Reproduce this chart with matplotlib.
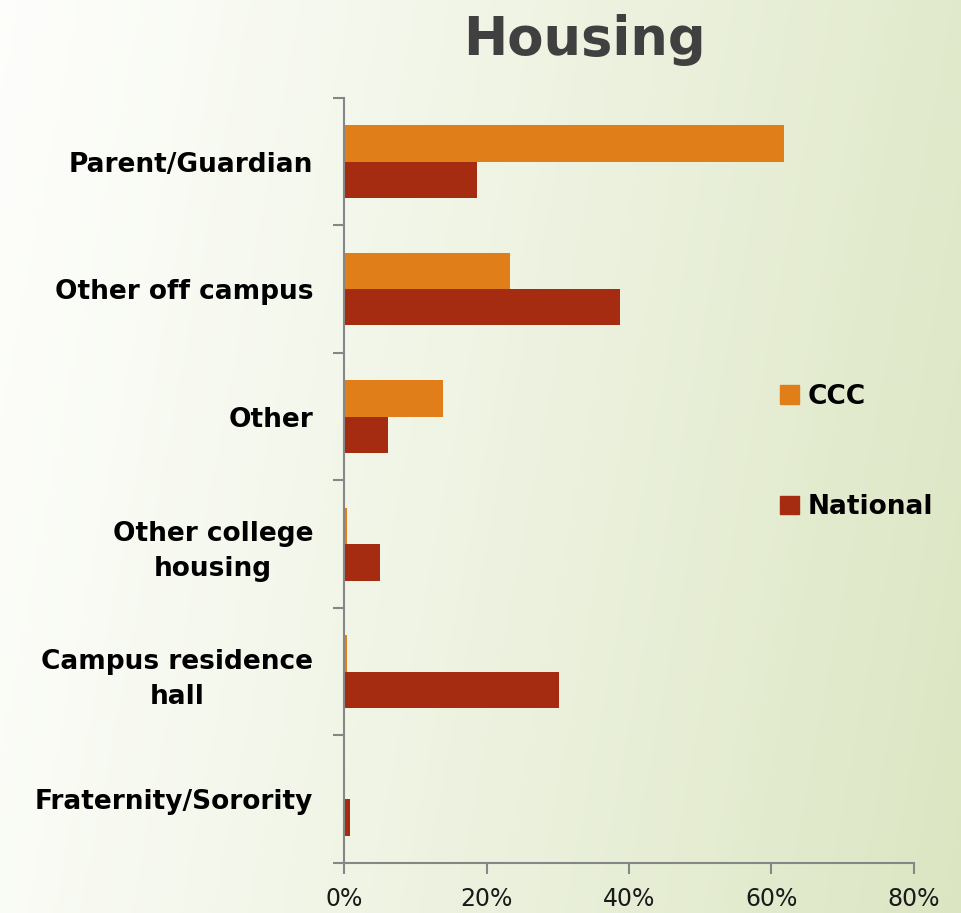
import numpy as np
import matplotlib
matplotlib.use("Agg")
import matplotlib.pyplot as plt
from matplotlib.patches import Patch
from matplotlib.ticker import FixedLocator, PercentFormatter

categories = ["Parent/Guardian", "Other off campus", "Other",
              "Other college\nhousing", "Campus residence\nhall",
              "Fraternity/Sorority"]
ccc = [61.8, 23.3, 13.9, 0.45, 0.35, 0.1]
national = [18.7, 38.7, 6.2, 5.1, 30.2, 0.9]

c_ccc = "#E07F1A"
c_nat = "#A52C10"
axis_gray = "#868686"

fig = plt.figure(figsize=(9.61, 9.13), dpi=100)

# background gradient, white on the left to pale green on the right
bg = fig.add_axes([0, 0, 1, 1], zorder=-10)
xx, yy = np.meshgrid(np.linspace(0, 1, 300), np.linspace(0, 1, 300))
t = np.clip(0.85 * xx + 0.15 * yy, 0, 1) ** 1.2
c0 = np.array([0.993, 0.996, 0.985])
c1 = np.array([0.86, 0.90, 0.76])
img = c0[None, None, :] * (1 - t[..., None]) + c1[None, None, :] * t[..., None]
bg.imshow(img, aspect="auto", extent=[0, 1, 0, 1], origin="upper")
bg.axis("off")

ax = fig.add_axes([0.358, 0.0548, 0.593, 0.838])
ax.patch.set_alpha(0)

n = len(categories)
pos = np.arange(n)
h = 0.285
ax.barh(pos - h / 2, ccc, height=h, color=c_ccc, label="CCC")
ax.barh(pos + h / 2, national, height=h, color=c_nat, label="National")

ax.set_ylim(n - 0.5, -0.5)
ax.set_xlim(0, 80)
ax.xaxis.set_major_locator(FixedLocator([0, 20, 40, 60, 80]))
ax.xaxis.set_major_formatter(PercentFormatter(decimals=0))

ax.set_yticks(pos)
ax.set_yticklabels(categories, fontsize=19, fontweight="bold",
                   ha="right", multialignment="center", linespacing=1.45)
ax.yaxis.set_minor_locator(FixedLocator(np.arange(-0.5, n, 1)))
ax.tick_params(axis="y", which="major", length=0, pad=22)
ax.tick_params(axis="y", which="minor", length=8, width=1.5, color=axis_gray)
ax.tick_params(axis="x", length=8, width=1.5, color=axis_gray,
               labelsize=17, pad=9, labelcolor="#1a1a1a")

for s in ["top", "right"]:
    ax.spines[s].set_visible(False)
for s in ["left", "bottom"]:
    ax.spines[s].set_color(axis_gray)
    ax.spines[s].set_linewidth(1.5)

fig.text(0.608, 1 - 55 / 913, "Housing", ha="center", va="baseline",
         fontsize=38, fontweight="bold", color="#404040")

handles = [Patch(color=c_ccc), Patch(color=c_nat)]
fig.legend(handles, ["CCC", "National"], loc="center left",
           bbox_to_anchor=(0.787, 0.505), frameon=False,
           prop={"size": 19, "weight": "bold"}, labelspacing=3.2,
           handlelength=0.7, handleheight=0.7, handletextpad=0.35)

fig.savefig("out.png", dpi=100)
